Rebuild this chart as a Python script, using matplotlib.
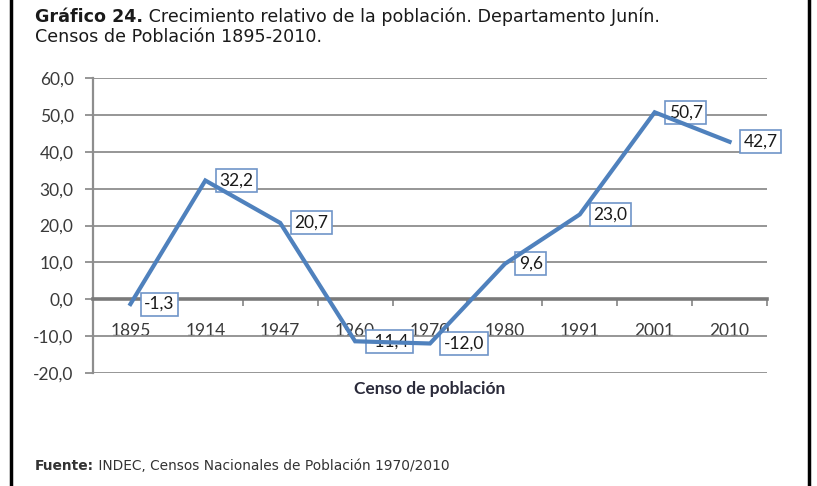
import matplotlib
matplotlib.use("Agg")
import matplotlib.pyplot as plt
from matplotlib.lines import Line2D

# ==========================================
# Données
# ==========================================
censos = ["1895", "1914", "1947", "1960", "1970", "1980", "1991", "2001", "2010"]
crecimiento = [-1.3, 32.2, 20.7, -11.4, -12.0, 9.6, 23.0, 50.7, 42.7]
y_ticks = [-20, -10, 0, 10, 20, 30, 40, 50, 60]

titulo_negrita = "Gráfico 24."
titulo_resto = " Crecimiento relativo de la población. Departamento Junín."
titulo_linea2 = "Censos de Población 1895-2010."
fuente_negrita = "Fuente:"
fuente_resto = " INDEC, Censos Nacionales de Población 1970/2010"
eje_x = "Censo de población"

def fmt(v):
    return f"{v:.1f}".replace(".", ",")

# ==========================================
# Figure
# ==========================================
W, H = 817, 486
fig = plt.figure(figsize=(W / 100, H / 100), dpi=100)
fig.patch.set_facecolor("white")

# cadre noir gauche / droite
fig.add_artist(Line2D([11 / W, 11 / W], [0, 1], color="black", lw=2.5, transform=fig.transFigure))
fig.add_artist(Line2D([809 / W, 809 / W], [0, 1], color="black", lw=2.5, transform=fig.transFigure))

ax = fig.add_axes([93 / W, 1 - 373 / H, (767 - 93) / W, (373 - 78) / H])
x = list(range(len(censos)))

ax.set_xlim(-0.5, len(censos) - 0.5)
ax.set_ylim(-20, 60)

tick_font = dict(fontsize=12.5, family="Lato", color="#3a3a3a")

# grille
ax.set_yticks(y_ticks)
ax.set_yticklabels([fmt(v) for v in y_ticks], **tick_font)
ax.yaxis.grid(True, color="#8e8e8e", lw=1.3)
ax.set_axisbelow(True)
ax.tick_params(axis="y", length=6, width=1.3, color="#8e8e8e", pad=8)
for s in ["top", "right"]:
    ax.spines[s].set_visible(False)
ax.spines["left"].set_color("#8e8e8e")
ax.spines["left"].set_linewidth(1.6)

# axe zéro
ax.spines["bottom"].set_position(("data", 0))
ax.spines["bottom"].set_color("#7a7a7a")
ax.spines["bottom"].set_linewidth(2.6)
ax.set_xticks(x)
ax.set_xticklabels(censos, **tick_font)
ax.tick_params(axis="x", length=0, pad=17)
ax.set_xticks([i + 0.5 for i in x], minor=True)
ax.tick_params(axis="x", which="minor", length=5, width=1.3, color="#8e8e8e", direction="out")

ax.plot(x, crecimiento, color="#4f81bd", lw=3, zorder=5, solid_joinstyle="miter")

for xi, v in zip(x, crecimiento):
    ax.annotate(fmt(v), xy=(xi, v), xytext=(10, 0), textcoords="offset points",
                ha="left", va="center", fontsize=12.5, family="Lato", color="#1a1a1a",
                bbox=dict(boxstyle="square,pad=0.2", fc="white", ec="#6f95c8", lw=1.2),
                zorder=4)

ax.set_xlabel(eje_x, fontsize=12.5, family="Lato", fontweight="bold", color="#2a2a3a")
ax.xaxis.set_label_coords(0.5, -16 / (373 - 78))
ax.xaxis.label.set_va("center")

# ==========================================
# Titre et source (partie en gras + suite)
# ==========================================
renderer = fig.canvas.get_renderer()

def texte_mixte(x_px, y_px, gras, normal, size, color):
    t = fig.text(x_px / W, 1 - y_px / H, gras, fontsize=size, fontweight="bold",
                 family="DejaVu Sans", va="baseline", ha="left", color=color)
    bb = t.get_window_extent(renderer)
    fig.text(bb.x1 / W, 1 - y_px / H, normal, fontsize=size,
             family="DejaVu Sans", va="baseline", ha="left", color=color)

texte_mixte(35, 22, titulo_negrita, titulo_resto, 12.6, "#1a1a1a")
fig.text(35 / W, 1 - 42 / H, titulo_linea2, fontsize=12.6,
         family="DejaVu Sans", va="baseline", ha="left", color="#1a1a1a")
texte_mixte(35, 470, fuente_negrita, fuente_resto, 9.9, "#333333")

fig.savefig("out.png", dpi=100)
